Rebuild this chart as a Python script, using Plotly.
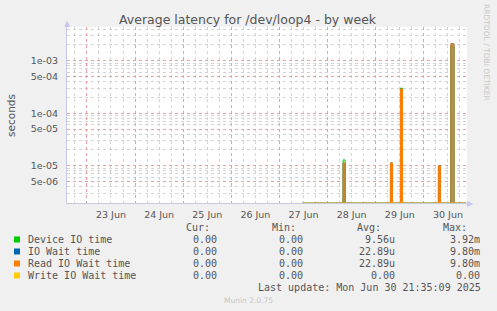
import plotly.graph_objects as go
import pandas as pd

# ---------------- data ----------------
x_start = "2025-06-22 14:05"
x_end = "2025-06-30 21:30"
y_log_min, y_log_max = -5.71, -2.358

data_start = "2025-06-27 11:30"
data_end = "2025-06-30 21:05"
spike_times = ["2025-06-28 07:45", "2025-06-29 07:20", "2025-06-29 12:20",
               "2025-06-30 07:15", "2025-06-30 13:30"]
spike_hours = [1.0, 1.0, 1.0, 1.0, 1.5]
device_io = [1.29e-5, 4.0e-6, 3.0e-4, 5.0e-6, 1.8e-3]
io_wait = [1.12e-5, 1.13e-5, 2.9e-4, 1.0e-5, 2.1e-3]
read_wait = [1.12e-5, 1.13e-5, 2.9e-4, 1.0e-5, 2.1e-3]
write_wait = [0.0, 0.0, 0.0, 0.0, 0.0]

series_names = ["Device IO time", "IO Wait time", "Read IO Wait time", "Write IO Wait time"]
series_colors = ["#00cc00", "#0066b3", "#ff8000", "#ffcc00"]
series_fill = [None, None, "rgba(170,130,55,0.85)", None]
cur_vals = ["0.00", "0.00", "0.00", "0.00"]
min_vals = ["0.00", "0.00", "0.00", "0.00"]
avg_vals = ["9.56u", "22.89u", "22.89u", "0.00"]
max_vals = ["3.92m", "9.80m", "9.80m", "0.00"]

major_ticks = [5e-6, 1e-5, 5e-5, 1e-4, 5e-4, 1e-3]
major_text = ["5e-06", "1e-05", "5e-05", "1e-04", "5e-04", "1e-03"]
minor_ticks = [m * 10.0 ** e for e in range(-6, -2) for m in range(1, 10)]

title = "Average latency for /dev/loop4 - by week"
last_update = "Last update: Mon Jun 30 21:35:09 2025"

# ---------------- layout geometry ----------------
W, H = 497, 311
L, R, T, B = 67, 30, 27, 108
PW, PH = W - L - R, H - T - B


def px(x):
    return (x - L) / PW


def py(y):
    return 1 - (y - T) / PH


floor = 10 ** (y_log_min - 0.004)


def build(values):
    xs = [pd.Timestamp(data_start)]
    ys = [0.0]
    for t, v, h in zip(spike_times, values, spike_hours):
        t0 = pd.Timestamp(t)
        xs += [t0, t0 + pd.Timedelta(hours=h)]
        ys += [v, 0.0]
    xs.append(pd.Timestamp(data_end))
    ys.append(0.0)
    ys = [max(y, floor) for y in ys]
    return xs, ys


fig = go.Figure()
for name, vals, col, fc in zip(series_names, [device_io, io_wait, read_wait, write_wait],
                               series_colors, series_fill):
    xs, ys = build(vals)
    kw = {}
    if fc:
        kw = dict(fill="toself", fillcolor=fc)
    fig.add_trace(go.Scatter(x=xs, y=ys, mode="lines", name=name,
                             line=dict(color=col, width=1, shape="hv"),
                             showlegend=False, hoverinfo="skip", **kw))

txt = "#555555"
fig.update_layout(
    width=W, height=H,
    margin=dict(l=L, r=R, t=T, b=B, pad=0),
    paper_bgcolor="#f0f0f0", plot_bgcolor="#ffffff",
    font=dict(family="DejaVu Sans", color=txt, size=10),
    showlegend=False,
)
fig.update_xaxes(
    type="date", range=[x_start, x_end],
    tickmode="linear", tick0="2025-06-22", dtick=86400000,
    ticklabelmode="period", tickformat="%d %b",
    tickfont=dict(size=9.5, color=txt), ticks="", ticklabelstandoff=3,
    showgrid=True, gridcolor="#e8a0a0", griddash="dot", gridwidth=1,
    minor=dict(showgrid=True, dtick=6 * 3600000, tick0="2025-06-22",
               gridcolor="#d4d4d4", griddash="dot", gridwidth=1),
    showline=True, linecolor="#c8c8e0", linewidth=1, layer="below traces",
    zeroline=False, fixedrange=True,
)
fig.update_yaxes(
    type="log", range=[y_log_min, y_log_max],
    tickmode="array", tickvals=major_ticks, ticktext=major_text,
    tickfont=dict(size=9.5, color=txt), ticks="", ticklabelstandoff=6,
    showgrid=True, gridcolor="#e8a0a0", griddash="dot", gridwidth=1,
    minor=dict(showgrid=True, tickmode="array", tickvals=minor_ticks,
               gridcolor="#d4d4d4", griddash="dot", gridwidth=1),
    showline=True, linecolor="#c8c8e8", linewidth=1,
    zeroline=False, fixedrange=True,
)

ann = []
ann.append(dict(text=title, x=px(248), y=py(19), xref="paper", yref="paper",
                showarrow=False, font=dict(size=12.5, color=txt, family="DejaVu Sans"),
                xanchor="center", yanchor="middle"))
ann.append(dict(text="seconds", x=px(11), y=py(115), xref="paper", yref="paper",
                showarrow=False, textangle=-90, font=dict(size=10.5, color=txt),
                xanchor="center", yanchor="middle"))
ann.append(dict(text="RRDTOOL / TOBI OETIKER", x=px(487), y=py(52), xref="paper", yref="paper",
                showarrow=False, textangle=90, font=dict(size=7.5, color="#c8c8c8"),
                xanchor="center", yanchor="middle"))
# axis arrows
ann.append(dict(text="▲", x=px(67), y=py(23), xref="paper", yref="paper", showarrow=False,
                font=dict(size=8, color="#c8c8f0"), xanchor="center", yanchor="middle"))
ann.append(dict(text="▶", x=px(470), y=py(203), xref="paper", yref="paper", showarrow=False,
                font=dict(size=8, color="#c8c8f0"), xanchor="center", yanchor="middle"))

mono = "DejaVu Sans Mono"
hdr_y = 227.7
cols = [("Cur:", 212, cur_vals, 219), ("Min:", 298, min_vals, 305),
        ("Avg:", 383, avg_vals, 397), ("Max:", 469, max_vals, 482)]
for head, hx, vals, vx in cols:
    ann.append(dict(text=head, x=px(hx), y=py(hdr_y), xref="paper", yref="paper", showarrow=False,
                    font=dict(size=10, color=txt, family=mono), xanchor="right", yanchor="middle"))
    for i, v in enumerate(vals):
        ann.append(dict(text=v, x=px(vx), y=py(239.5 + 12 * i), xref="paper", yref="paper",
                        showarrow=False, font=dict(size=10, color=txt, family=mono),
                        xanchor="right", yanchor="middle"))
shapes = []
for i, (name, col) in enumerate(zip(series_names, series_colors)):
    yc = 239.5 + 12 * i
    ann.append(dict(text=name, x=px(25.5), y=py(yc), xref="paper", yref="paper", showarrow=False,
                    font=dict(size=10, color=txt, family=mono), xanchor="left", yanchor="middle"))
    shapes.append(dict(type="rect", xref="paper", yref="paper",
                       x0=px(14), x1=px(20), y0=py(yc - 3), y1=py(yc + 3),
                       fillcolor=col, line=dict(width=0)))
ann.append(dict(text=last_update, x=px(482.5), y=py(287.5), xref="paper", yref="paper",
                showarrow=False, font=dict(size=10, color=txt, family=mono),
                xanchor="right", yanchor="middle"))
ann.append(dict(text="Munin 2.0.75", x=px(248), y=py(300), xref="paper", yref="paper",
                showarrow=False, font=dict(size=7.5, color="#c8c8c8"),
                xanchor="center", yanchor="middle"))

fig.update_layout(annotations=ann, shapes=shapes)
fig.write_html("out.html")
